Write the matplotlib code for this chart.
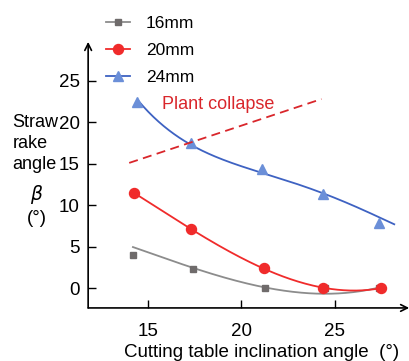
import matplotlib

matplotlib.use("Agg")

import matplotlib.pyplot as plt  # noqa: E402
import numpy as np  # noqa: E402

plt.rcParams["font.family"] = ["Liberation Sans", "DejaVu Sans"]
plt.rcParams["font.size"] = 13

# data
angle_16 = [14.2, 17.4, 21.3, 24.5, 27.4]
rake_16 = [4.0, 2.3, 0.0, 0.0, 0.0]
angle_20 = [14.25, 17.3, 21.2, 24.4, 27.5]
rake_20 = [11.5, 7.1, 2.4, 0.0, 0.0]
angle_24 = [14.4, 17.3, 21.1, 24.4, 27.4]
rake_24 = [22.4, 17.5, 14.4, 11.4, 7.8]
# trend lines as drawn in the reference
trend_16_x = [14.2, 17.4, 21.3, 22.7, 24.5, 27.4]
trend_16_y = [4.9, 2.6, -0.1, -0.6, -0.4, 0.0]
trend_24_x = [14.47, 15.55, 17.17, 19.1, 20.5, 21.8, 24.3, 26.4, 28.2]
trend_24_y = [22.5, 20.4, 17.4, 15.2, 14.4, 13.5, 11.6, 9.4, 7.75]
collapse_x = [14.0, 24.3]
collapse_y = [15.1, 22.8]

series = [
    ("16mm", angle_16, rake_16, trend_16_x, trend_16_y, "s", 4.5,
     "#6f6b6b", "#8c8c8c", 3),
    ("20mm", angle_20, rake_20, angle_20, rake_20, "o", 7.2,
     "#f02b2b", "#f02b2b", 3),
    ("24mm", angle_24, rake_24, trend_24_x, trend_24_y, "^", 7.5,
     "#6b8fd8", "#3e62c2", 4),
]

fig = plt.figure(figsize=(4.1, 3.61), dpi=100)
ax = fig.add_axes([0.215, 0.147, 0.783, 0.737])

handles = []
for label, xs, ys, tx, ty, mk, ms, mcol, lcol, deg in series:
    coef = np.polyfit(tx, ty, deg)
    xf = np.linspace(tx[0], tx[-1], 200)
    ax.plot(xf, np.polyval(coef, xf), color=lcol, lw=1.3)
    ax.plot(xs, ys, mk, color=mcol, ms=ms, ls="none")
    h, = ax.plot([], [], color=lcol, lw=1.3, marker=mk, mfc=mcol, mec=mcol,
                 ms=ms)
    handles.append(h)

ax.plot(collapse_x, collapse_y, color="#d9262b", ls=(0, (5, 3)), lw=1.3)
ax.text(15.75, 22.2, "Plant collapse", color="#d9262b", fontsize=13,
        va="center", ha="left")

ax.set_xlim(11.8, 29.0)
ax.set_ylim(-2.4, 29.7)
ax.set_xticks([15, 20, 25])
ax.set_yticks([0, 5, 10, 15, 20, 25])
ax.tick_params(direction="in", length=6, width=1, labelsize=13.5)
ax.tick_params(axis="y", pad=6)
ax.tick_params(axis="x", pad=11)
for s in ax.spines.values():
    s.set_visible(False)
arrow = dict(arrowstyle="->", lw=1.2, color="black", shrinkA=0, shrinkB=0,
             mutation_scale=12)
ax.annotate("", xy=(1, 0), xytext=(0, 0), xycoords="axes fraction",
            arrowprops=arrow)
ax.annotate("", xy=(0, 1), xytext=(0, 0), xycoords="axes fraction",
            arrowprops=arrow)

ax.set_xlabel("Cutting table inclination angle  (°)", fontsize=13.5)
ax.xaxis.set_label_coords(0.54, -0.135)
fig.text(0.03, 0.685, "Straw\nrake\nangle", fontsize=13, va="top",
         ha="left", linespacing=1.3)
fig.text(0.09, 0.462, r"$\beta$", fontsize=13.5, ha="center", va="center")
fig.text(0.09, 0.395, "(°)", fontsize=13.5, ha="center", va="center")

fig.legend(handles, ["16mm", "20mm", "24mm"], loc="upper left",
           bbox_to_anchor=(0.22, 1.0), frameon=False, fontsize=12.5,
           handlelength=1.4, labelspacing=0.7, handletextpad=0.9)

fig.savefig("out.png", dpi=100)
